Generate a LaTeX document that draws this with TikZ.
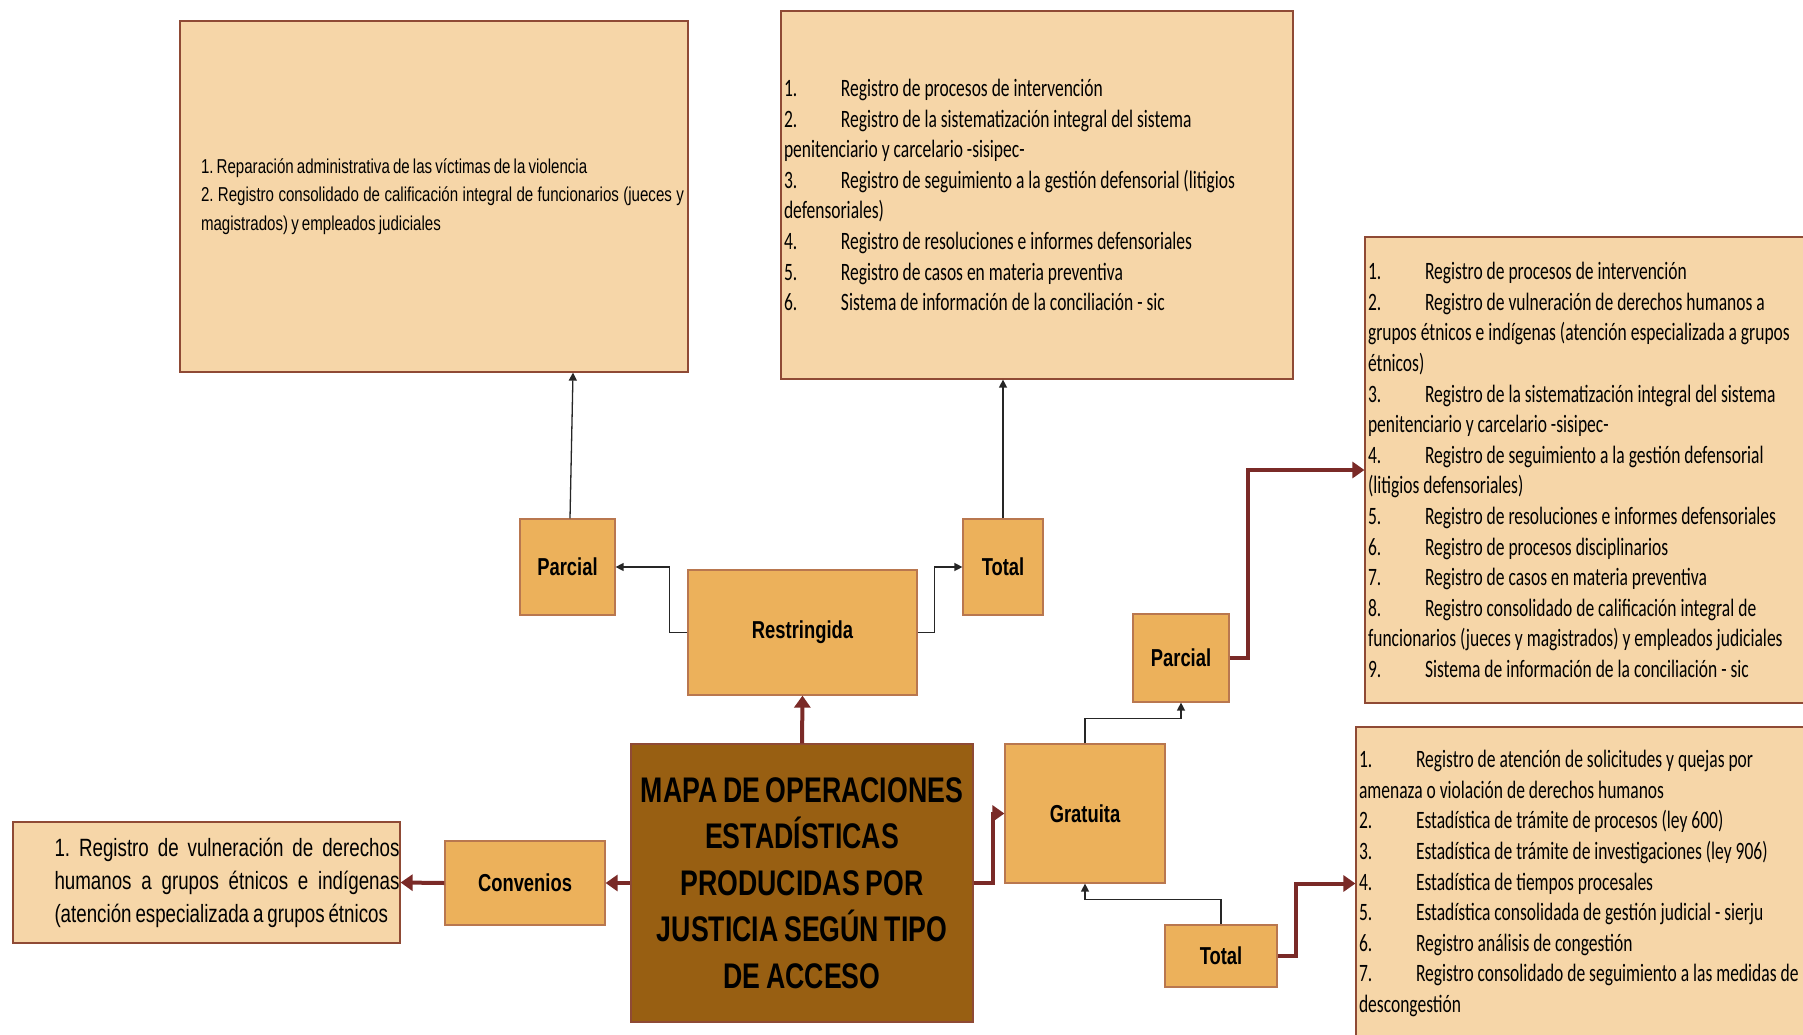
\documentclass[tikz,border=0pt]{standalone}
\usepackage{fontspec}
\usetikzlibrary{arrows.meta}
\newfontfamily\narrowfont[FakeStretch=0.75,WordSpace=0.75]{Liberation Sans}
\newfontfamily\listfont[FakeStretch=0.7]{Carlito}
\definecolor{boxlight}{HTML}{F6D6A8}
\definecolor{boxorange}{HTML}{ECB15B}
\definecolor{boxbrown}{HTML}{985F12}
\definecolor{arrowred}{HTML}{7A2A27}
\definecolor{edgedark}{HTML}{8F4A35}
\definecolor{edgelight}{HTML}{B9774F}
\newcommand{\itm}[1]{\makebox[57pt][l]{#1}}
\frenchspacing
\begin{document}
\begin{tikzpicture}[x=1pt,y=-1pt,
  listbox/.style={draw=edgedark,line width=1.2pt,fill=boxlight,inner sep=3pt,align=flush left,
    font=\listfont\fontsize{25}{30.6}\selectfont},
  labelbox/.style={draw=edgelight,line width=1.2pt,fill=boxorange,inner sep=0pt,
    font=\narrowfont\bfseries\fontsize{24.5}{29}\selectfont},
  thickarrow/.style={draw=arrowred,line width=4pt,-{Triangle[length=12pt,width=16pt]}},
  thinarrow/.style={draw=black!85,line width=1.3pt,-{Triangle[length=8pt,width=8pt]}}]
\useasboundingbox (0,0) rectangle (1803,1035);
\clip (0,0) rectangle (1803,1035);
% centro
\node[draw=edgedark,line width=1.2pt,fill=boxbrown,minimum width=342pt,minimum height=278pt,align=center,
  font=\narrowfont\bfseries\fontsize{35.6}{46.6}\selectfont] (main) at (802,883)
  {MAPA DE OPERACIONES\\ESTADÍSTICAS\\PRODUCIDAS POR\\JUSTICIA SEGÚN TIPO\\DE ACCESO};
\node[labelbox,minimum width=229pt,minimum height=125pt] (restr) at (802.5,632.5) {Restringida};
\node[labelbox,minimum width=95pt,minimum height=96pt] (pR) at (567.5,567) {Parcial};
\node[labelbox,minimum width=80pt,minimum height=96pt] (tR) at (1003,567) {Total};
\node[labelbox,minimum width=160pt,minimum height=84pt] (conv) at (525,883) {Convenios};
\node[labelbox,minimum width=160pt,minimum height=139pt] (grat) at (1085,813.5) {Gratuita};
\node[labelbox,minimum width=96pt,minimum height=88pt] (pG) at (1181,658) {Parcial};
\node[labelbox,minimum width=112pt,minimum height=62pt] (tG) at (1221,956) {Total};
% listas
\node[listbox,minimum width=508pt,minimum height=351pt,inner sep=0pt,
  font=\narrowfont\fontsize{20.1}{28.5}\selectfont] (listA) at (434,196.5)
  {\hspace*{17pt}\parbox{483pt}{1. Reparación administrativa de las víctimas de la violencia\\
  2. Registro consolidado de calificación integral de funcionarios (jueces y\linebreak
  magistrados) y empleados judiciales}};
\node[listbox,minimum width=512pt,minimum height=368pt,text width=506pt] (listB) at (1037,195)
  {\itm{1.}Registro de procesos de intervención\\
  \itm{2.}Registro de la sistematización integral del sistema\\
  penitenciario y carcelario -sisipec-\\
  \itm{3.}Registro de seguimiento a la gestión defensorial (litigios\\
  defensoriales)\\
  \itm{4.}Registro de resoluciones e informes defensoriales\\
  \itm{5.}Registro de casos en materia preventiva\\
  \itm{6.}Sistema de información de la conciliación - sic};
\node[listbox,minimum width=465pt,minimum height=466pt,text width=459pt] (listC) at (1597.5,470)
  {\itm{1.}Registro de procesos de intervención\\
  \itm{2.}Registro de vulneración de derechos humanos a\\
  grupos étnicos e indígenas (atención especializada a grupos\\
  étnicos)\\
  \itm{3.}Registro de la sistematización integral del sistema\\
  penitenciario y carcelario -sisipec-\\
  \itm{4.}Registro de seguimiento a la gestión defensorial\\
  (litigios defensoriales)\\
  \itm{5.}Registro de resoluciones e informes defensoriales\\
  \itm{6.}Registro de procesos disciplinarios\\
  \itm{7.}Registro de casos en materia preventiva\\
  \itm{8.}Registro consolidado de calificación integral de\\
  funcionarios (jueces y magistrados) y empleados judiciales\\
  \itm{9.}Sistema de información de la conciliación - sic};
\node[listbox,minimum width=474pt,minimum height=313pt,text width=468pt] (listD) at (1593,883.5)
  {\itm{1.}Registro de atención de solicitudes y quejas por\\
  amenaza o violación de derechos humanos\\
  \itm{2.}Estadística de trámite de procesos (ley 600)\\
  \itm{3.}Estadística de trámite de investigaciones (ley 906)\\
  \itm{4.}Estadística de tiempos procesales\\
  \itm{5.}Estadística consolidada de gestión judicial - sierju\\
  \itm{6.}Registro análisis de congestión\\
  \itm{7.}Registro consolidado de seguimiento a las medidas de\\
  descongestión};
\node[listbox,minimum width=387pt,minimum height=121pt,inner sep=0pt,
  font=\narrowfont\fontsize{25}{33}\selectfont] (listE) at (206.5,882.5)
  {\hspace*{41pt}\parbox{345pt}{1. Registro de vulneración de derechos\linebreak
  humanos a grupos étnicos e indígenas\linebreak
  (atención especializada a grupos étnicos}};
% conectores
\draw[thickarrow] (main.north) -- (restr.south);
\draw[thickarrow] (main.west) -- (conv.east);
\draw[thickarrow] (conv.west) -- (listE.east);
\draw[thickarrow] (main.east) -- ++(19,0) |- (grat.west);
\draw[thickarrow] (pG.east) -- ++(18,0) |- (listC.west);
\draw[thickarrow] (tG.east) -- ++(18,0) |- (listD.west);
\draw[thinarrow] (restr.west) -- ++(-18,0) |- (pR.east);
\draw[thinarrow] (restr.east) -- ++(17,0) |- (tR.west);
\draw[thinarrow] ([xshift=2.5pt]pR.north) -- ([xshift=139pt]listA.south);
\draw[thinarrow] (tR.north) -- (tR.north |- listB.south);
\draw[thinarrow] (grat.north) -- ++(0,-24.6) -| (pG.south);
\draw[thinarrow] (tG.north) -- ++(0,-25) -| (grat.south);
\end{tikzpicture}
\end{document}
